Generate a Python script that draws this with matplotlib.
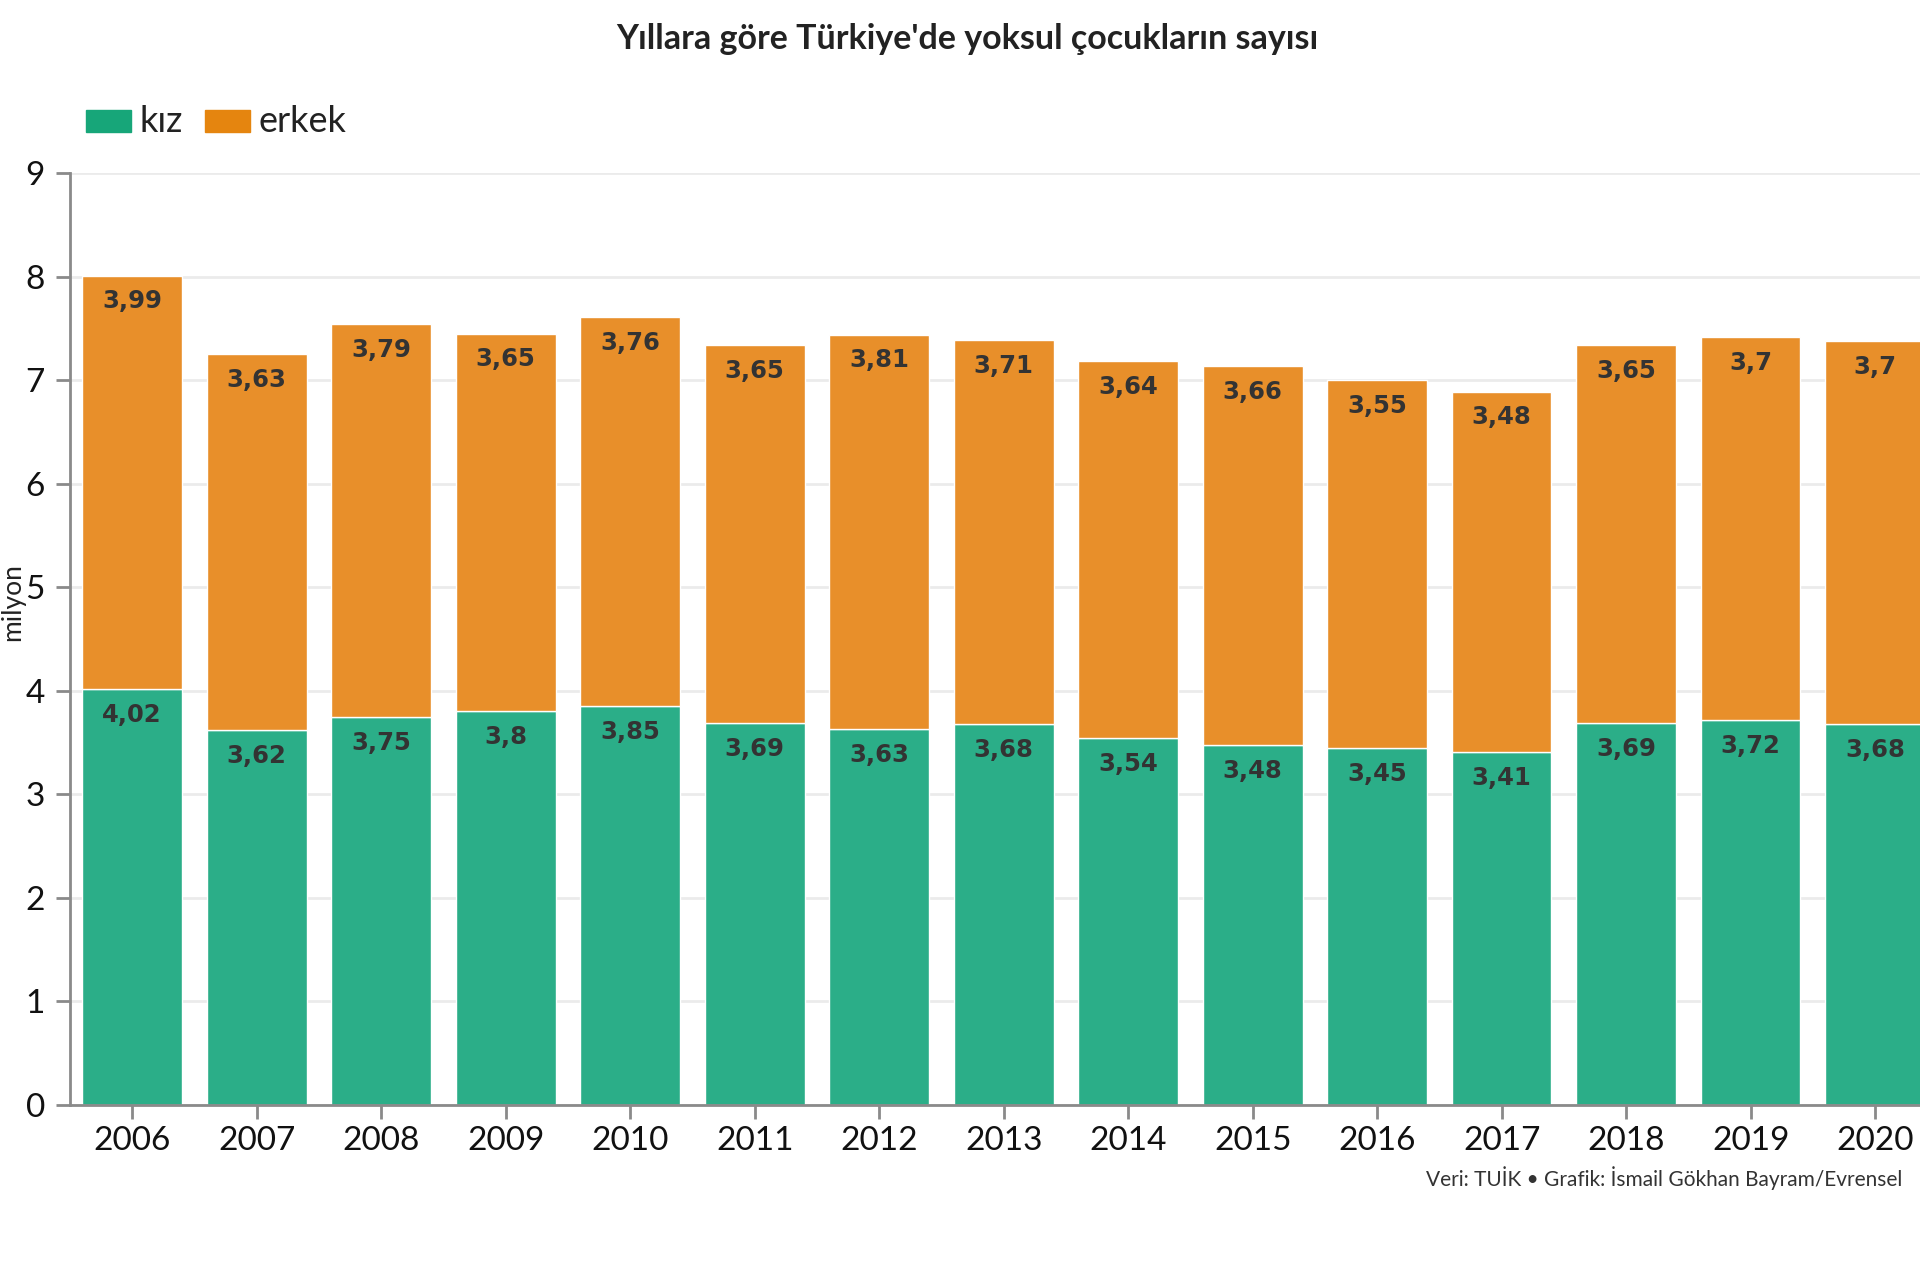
import matplotlib.pyplot as plt
import numpy as np

years = ['2006', '2007', '2008', '2009', '2010', '2011', '2012', '2013',
         '2014', '2015', '2016', '2017', '2018', '2019', '2020']
kiz = [4.02, 3.62, 3.75, 3.8, 3.85, 3.69, 3.63, 3.68, 3.54, 3.48, 3.45, 3.41, 3.69, 3.72, 3.68]
erkek = [3.99, 3.63, 3.79, 3.65, 3.76, 3.65, 3.81, 3.71, 3.64, 3.66, 3.55, 3.48, 3.65, 3.7, 3.7]

GREEN = '#2bae88'
ORANGE = '#e88f2a'
TEXT = '#222222'
AXIS = '#8a8a8a'

plt.rcParams['font.family'] = ['Lato', 'DejaVu Sans']

fig = plt.figure(figsize=(19.2, 12.8), dpi=100)
ax = fig.add_axes([70 / 1920, 175 / 1280, 1 - 70 / 1920, 932 / 1280])

x = np.arange(len(years))
ax.bar(x, kiz, width=0.8, color=GREEN, edgecolor='white', linewidth=1, zorder=2)
ax.bar(x, erkek, width=0.8, bottom=kiz, color=ORANGE, edgecolor='white', linewidth=1, zorder=2)

def fmt(v):
    return ('%g' % v).replace('.', ',')

for xi, k, e in zip(x, kiz, erkek):
    ax.annotate(fmt(k), (xi, k), xytext=(0, -10), textcoords='offset points',
                ha='center', va='top', fontsize=17.5, fontweight='bold',
                color='#333333', family='DejaVu Sans')
    ax.annotate(fmt(e), (xi, k + e), xytext=(0, -10), textcoords='offset points',
                ha='center', va='top', fontsize=17.5, fontweight='bold',
                color='#333333', family='DejaVu Sans')

ax.set_xlim(-0.5, 14.36)
ax.set_ylim(0, 9)
ax.set_xticks(x)
ax.set_xticklabels(years)
ax.set_yticks(range(10))
ax.tick_params(axis='both', labelsize=24, colors=AXIS, labelcolor='#111111',
               length=10, width=2)
ax.tick_params(axis='y', pad=8)
ax.tick_params(axis='x', pad=5)
for s in ['top', 'right']:
    ax.spines[s].set_visible(False)
for s in ['left', 'bottom']:
    ax.spines[s].set_color(AXIS)
    ax.spines[s].set_linewidth(2)
ax.grid(axis='y', color='#ebebeb', linewidth=2, zorder=0)
ax.set_axisbelow(True)

fig.text(13 / 1920, 1 - 602 / 1280, 'milyon', rotation=90, fontsize=19,
         color='#222222', ha='center', va='center')

fig.text(967 / 1920, 1 - 39 / 1280, "Yıllara göre Türkiye'de yoksul çocukların sayısı",
         ha='center', va='center', fontsize=24.5, fontweight='bold', color=TEXT)

# legend
fig.patches.append(plt.Rectangle((86 / 1920, 1 - 132 / 1280), 45 / 1920, 22 / 1280,
                                 transform=fig.transFigure, color='#17a679'))
fig.text(140 / 1920, 1 - 121 / 1280, 'kız', fontsize=26, va='center', color=TEXT)
fig.patches.append(plt.Rectangle((205 / 1920, 1 - 132 / 1280), 45 / 1920, 22 / 1280,
                                 transform=fig.transFigure, color='#e5850f'))
fig.text(258 / 1920, 1 - 121 / 1280, 'erkek', fontsize=26, va='center', color=TEXT)

fig.text(1902 / 1920, 1 - 1178 / 1280,
         'Veri: TUİK • Grafik: İsmail Gökhan Bayram/Evrensel',
         ha='right', va='center', fontsize=15, color='#333333')

fig.savefig('out.png', dpi=100)
